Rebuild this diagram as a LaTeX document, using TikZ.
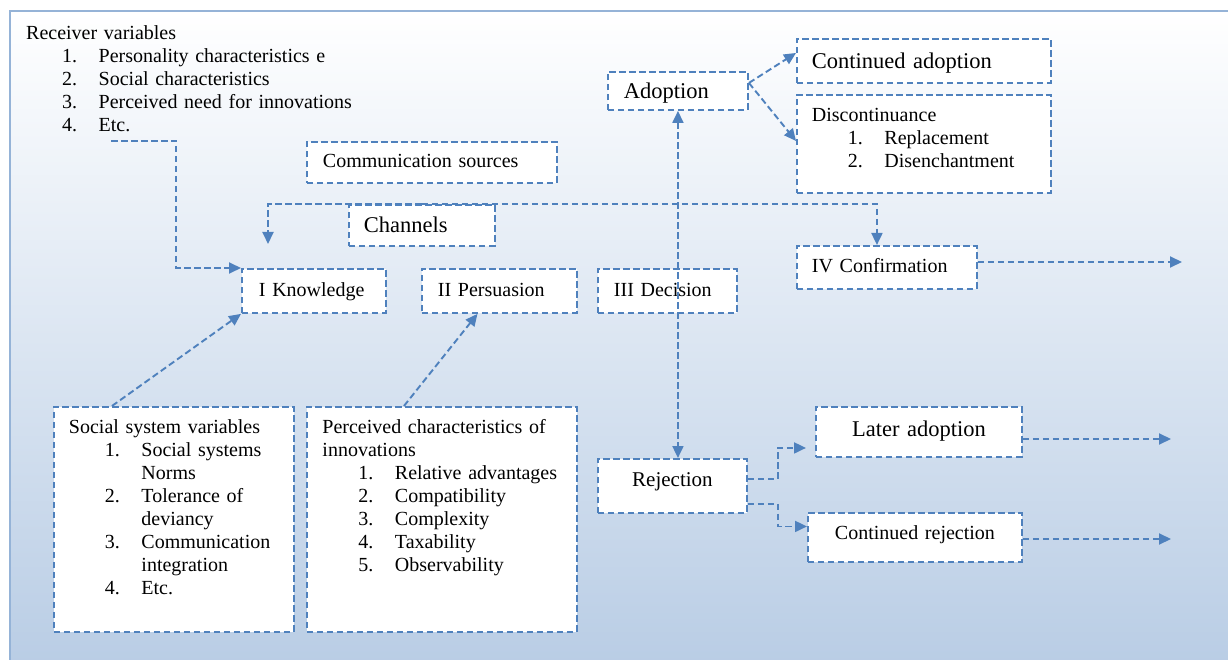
\documentclass[tikz,border=0pt]{standalone}
\usepackage{fontspec}
\setmainfont{Liberation Serif}
\usetikzlibrary{arrows.meta,calc}
\definecolor{lineblue}{RGB}{79,129,189}
\definecolor{bgblue}{RGB}{185,205,229}
\definecolor{frameblue}{RGB}{149,179,215}
\newcommand\numline[2]{\hspace*{36pt}\makebox[36.5pt][l]{#1}#2}

\begin{document}
\begin{tikzpicture}[x=1pt, y=-1pt,
  font=\fontsize{20}{23}\selectfont,
  box/.style={draw=lineblue, line width=1.9pt, dash pattern=on 6.5pt off 3.5pt, fill=white,
    anchor=north west, inner xsep=16pt, inner ysep=0pt, align=left, text height=14pt, text depth=3pt},
  listbox/.style={box, inner xsep=15pt, inner ysep=13pt},
  largetxt/.style={font=\fontsize{22.5}{26}\selectfont, text height=16pt, text depth=1pt},
  conn/.style={draw=lineblue, line width=1.9pt, dash pattern=on 6.5pt off 3.5pt, -{Triangle[length=12pt,width=11pt]}},
  conn2/.style={conn, {Triangle[length=12pt,width=11pt]}-{Triangle[length=12pt,width=11pt]}}]

\useasboundingbox (0,0) rectangle (1228,660);
\shade[top color=white, bottom color=bgblue] (10,11) rectangle (1232,664);
\draw[frameblue, line width=2.5pt] (10,664) -- (10,11) -- (1232,11);

\node[anchor=base west, inner sep=0pt, text width=400pt, align=left] (recv) at (26,39.5)
  {Receiver variables\\ \numline{1.}{Personality characteristics e}\\ \numline{2.}{Social characteristics}\\
   \numline{3.}{Perceived need for innovations}\\ \numline{4.}{Etc.}};

\node[box, text width=218pt, minimum height=41pt] (comm) at (306,141) {Communication sources};
\node[box, largetxt, inner xsep=15pt, text width=116pt, minimum height=41pt] (chan) at (348,204) {Channels};
\node[box, inner xsep=17pt, text width=110pt, minimum height=44pt] (know) at (241,268) {I Knowledge};
\node[box, text width=123pt, minimum height=44pt] (pers) at (421,268) {II Persuasion};
\node[box, text width=107pt, minimum height=44pt] (deci) at (597,268) {III Decision};
\node[box, largetxt, text width=108pt, minimum height=38pt] (adop) at (607,71) {Adoption};
\node[box, largetxt, inner xsep=15pt, text width=224pt, minimum height=44pt] (contad) at (796,38) {Continued adoption};
\node[listbox, text width=224pt, text depth=58pt] (disc) at (796,94)
  {Discontinuance\\ \numline{1.}{Replacement}\\ \numline{2.}{Disenchantment}};
\node[box, inner xsep=15pt, text width=150pt, minimum height=43pt] (conf) at (796,245) {IV Confirmation};

\node[listbox, text width=210pt, text depth=185pt] (soc) at (53,406)
  {Social system variables\\ \numline{1.}{Social systems}\\ \hspace*{72.5pt}Norms\\ \numline{2.}{Tolerance of}\\
   \hspace*{72.5pt}deviancy\\ \numline{3.}{Communication}\\ \hspace*{72.5pt}integration\\ \numline{4.}{Etc.}};
\node[listbox, inner xsep=15.5pt, text width=239pt, text depth=185pt] (perc) at (306,406)
  {Perceived characteristics of\\ innovations\\ \numline{1.}{Relative advantages}\\ \numline{2.}{Compatibility}\\
   \numline{3.}{Complexity}\\ \numline{4.}{Taxability}\\ \numline{5.}{Observability}};

\node[box, align=center, font=\fontsize{21}{24}\selectfont, text width=117pt, minimum height=54pt, text depth=12pt] (rejec) at (597,458) {Rejection};
\node[box, largetxt, align=center, text width=174pt, minimum height=50pt, text depth=7pt] (later) at (815,406) {Later adoption};
\node[box, align=center, text width=182pt, minimum height=49pt, text depth=10pt] (contrej) at (807,512) {Continued rejection};

\coordinate (rv) at (111,141);
\coordinate (chk) at (268,244);
\coordinate (outc) at (1182,262);
\coordinate (outl) at (1171,439);
\coordinate (outr) at (1171,539);

\draw[conn] (rv) -- ++(65,0) |- (know.north west);
\draw[conn] (chan.north) -| (chk);
\draw[conn] (chan.north) -| ([xshift=-10pt]conf.north);
\draw[conn] ([xshift=-62pt]soc.north) -- (know.south west);
\draw[conn] ([xshift=-38pt]perc.north) -- ([xshift=-22pt]pers.south);
\draw[conn2] (adop.south) -- (adop.south |- rejec.north);
\draw[conn] ([yshift=8pt]adop.east) -- ([yshift=8pt]contad.west);
\draw[conn] ([yshift=8pt]adop.east) -- ([yshift=3pt]disc.west);
\draw[conn] (conf.east |- outc) -- (outc);
\draw[conn] ([yshift=7pt]rejec.east) -- ++(30,0) |- ([xshift=-9pt,yshift=-16pt]later.west);
\draw[conn] ([yshift=-18pt]rejec.east) -- ++(30,0) |- ([yshift=11pt]contrej.west);
\draw[conn] (later.east |- outl) -- (outl);
\draw[conn] (contrej.east |- outr) -- (outr);
\end{tikzpicture}
\end{document}
